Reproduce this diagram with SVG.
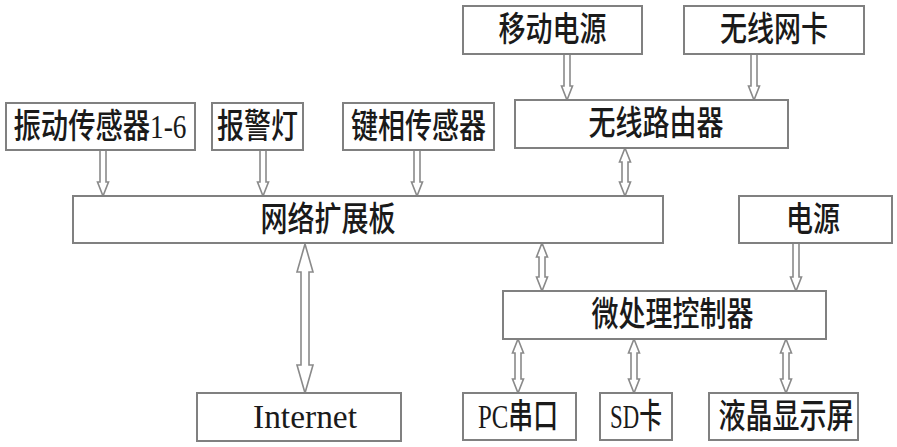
<svg xmlns="http://www.w3.org/2000/svg" width="897" height="447" viewBox="0 0 897 447">
<style>
.box{fill:#fff;stroke:#808080;stroke-width:2}
.lbl{font-family:"Liberation Serif","Noto Sans CJK SC",serif;font-size:27px;font-weight:500;fill:#1a1a1a;text-anchor:middle;dominant-baseline:central}
.arr{fill:#fff;stroke:#8a8a8a;stroke-width:1.6;stroke-linejoin:miter}
</style>
<rect width="897" height="447" fill="#fff"/>
<g id="connectors">
<path class="arr" d="M100 150 L100 182 L97.5 182 L103 196 L108.5 182 L106 182 L106 150 Z"/>
<path class="arr" d="M260 150 L260 182 L257.5 182 L263 196 L268.5 182 L266 182 L266 150 Z"/>
<path class="arr" d="M414 150 L414 182 L411.5 182 L417 196 L422.5 182 L420 182 L420 150 Z"/>
<path class="arr" d="M564 54 L564 86 L561.5 86 L567 100 L572.5 86 L570 86 L570 54 Z"/>
<path class="arr" d="M751 54 L751 86 L748.5 86 L754 100 L759.5 86 L757 86 L757 54 Z"/>
<path class="arr" d="M793 243 L793 277 L790.5 277 L796 291 L801.5 277 L799 277 L799 243 Z"/>
<path class="arr" d="M625 148 L630.5 162 L628 162 L628 182 L630.5 182 L625 196 L619.5 182 L622 182 L622 162 L619.5 162 Z"/>
<path class="arr" d="M542 243 L547.5 257 L545 257 L545 277 L547.5 277 L542 291 L536.5 277 L539 277 L539 257 L536.5 257 Z"/>
<path class="arr" d="M518 339 L523.5 353 L521 353 L521 379 L523.5 379 L518 393 L512.5 379 L515 379 L515 353 L512.5 353 Z"/>
<path class="arr" d="M634 339 L639.5 353 L637 353 L637 379 L639.5 379 L634 393 L628.5 379 L631 379 L631 353 L628.5 353 Z"/>
<path class="arr" d="M786 339 L791.5 353 L789 353 L789 379 L791.5 379 L786 393 L780.5 379 L783 379 L783 353 L780.5 353 Z"/>
<path class="arr" d="M305 244 L313 272 L309 272 L309 365 L313 365 L305 393 L297 365 L301 365 L301 272 L297 272 Z"/>
</g>
<g id="n1"><rect class="box" x="6" y="103" width="189" height="47"/><text class="lbl" transform="translate(100,126.5) scale(1,1.25)" textLength="173" lengthAdjust="spacingAndGlyphs">振动传感器1-6</text></g>
<g id="n2"><rect class="box" x="212" y="103" width="91" height="47"/><text class="lbl" transform="translate(257.5,126.5) scale(1,1.25)">报警灯</text></g>
<g id="n3"><rect class="box" x="343" y="103" width="151" height="47"/><text class="lbl" transform="translate(418.5,126.5) scale(1,1.25)">键相传感器</text></g>
<g id="n4"><rect class="box" x="463" y="6" width="179" height="48"/><text class="lbl" transform="translate(552.5,30) scale(1,1.25)">移动电源</text></g>
<g id="n5"><rect class="box" x="684" y="6" width="180" height="48"/><text class="lbl" transform="translate(774,30) scale(1,1.25)">无线网卡</text></g>
<g id="n6"><rect class="box" x="515" y="100" width="273" height="48"/><text class="lbl" transform="translate(656,124) scale(1,1.25)">无线路由器</text></g>
<g id="n7"><rect class="box" x="73" y="196" width="590" height="47"/><text class="lbl" transform="translate(328,219.5) scale(1,1.25)">网络扩展板</text></g>
<g id="n8"><rect class="box" x="739" y="196" width="153" height="47"/><text class="lbl" transform="translate(813,219.5) scale(1,1.25)">电源</text></g>
<g id="n9"><rect class="box" x="503" y="291" width="323" height="48"/><text class="lbl" transform="translate(672.5,315) scale(1,1.25)">微处理控制器</text></g>
<g id="n10"><rect class="box" x="197" y="393" width="204" height="48"/><text class="lbl" transform="translate(305,417) scale(1,1.25)" textLength="104" lengthAdjust="spacingAndGlyphs">Internet</text></g>
<g id="n11"><rect class="box" x="463" y="393" width="113" height="47"/><text class="lbl" transform="translate(518,416.5) scale(1,1.25)" textLength="80" lengthAdjust="spacingAndGlyphs">PC串口</text></g>
<g id="n12"><rect class="box" x="600" y="393" width="72" height="47"/><text class="lbl" transform="translate(636,416.5) scale(1,1.25)" textLength="52" lengthAdjust="spacingAndGlyphs">SD卡</text></g>
<g id="n13"><rect class="box" x="709" y="393" width="149" height="47"/><text class="lbl" transform="translate(786,416.5) scale(1,1.25)">液晶显示屏</text></g>
</svg>
